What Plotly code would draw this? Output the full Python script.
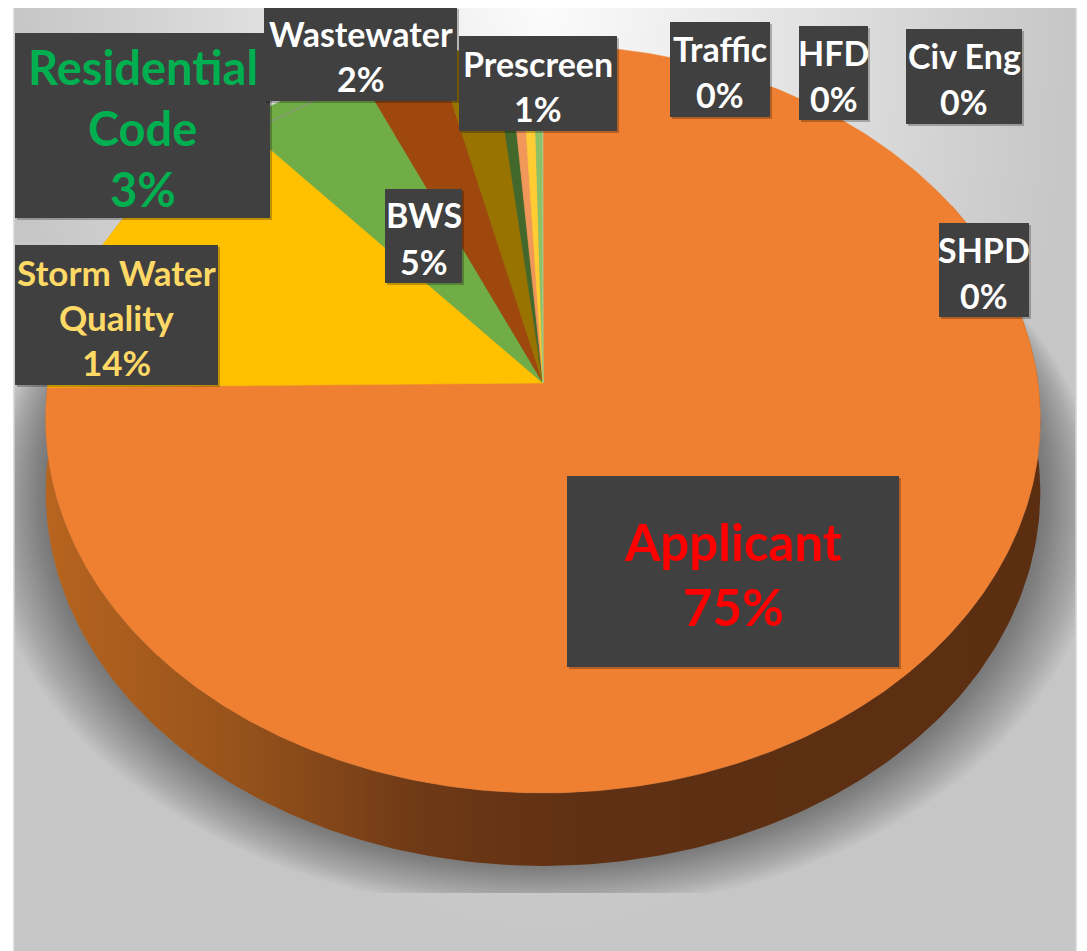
import numpy as np
import plotly.graph_objects as go

# ---------------- data ----------------
categories = ["Applicant", "Storm Water Quality", "BWS", "Residential Code", "Wastewater",
              "Prescreen", "Traffic", "HFD", "Civ Eng", "SHPD"]
values = [75.0, 13.8, 4.75, 2.9, 2.0, 0.55, 0.45, 0.45, 0.3, 0.05]
slice_colors = ["#EF7F31", "#FFC000", "#70AD47", "#9E480E", "#997300",
                "#43682B", "#F1975A", "#FFCD33", "#8CC168", "#A9D18E"]
label_lines = {"Residential Code": ["Residential", "Code"],
               "Storm Water Quality": ["Storm Water", "Quality"]}

# ---------------- styling / layout ----------------
W, H = 1087, 951
OFF = 8                          # page body margin
CX, CY = 543.0, 383.0          # projected pie centre
A, B, K = 495.0, 370.5, 0.0962  # perspective parameters
DEPTH = 73.0

label_style = {
    "Applicant":           dict(box=(567, 476, 899, 667), size=51, color="#FF0000", gap=65),
    "Storm Water Quality": dict(box=(15, 245, 218, 385), size=35, color="#FFD966", gap=45),
    "BWS":                 dict(box=(385, 189, 462, 283), size=34, color="#FFFFFF", gap=47),
    "Residential Code":    dict(box=(15, 33, 270, 218), size=47, color="#00B050", gap=61),
    "Wastewater":          dict(box=(264, 7, 457, 101), size=34, color="#FFFFFF", gap=45),
    "Prescreen":           dict(box=(459, 36, 617, 131), size=34, color="#FFFFFF", gap=45),
    "Traffic":             dict(box=(670, 22, 770, 117), size=34, color="#FFFFFF", gap=46),
    "HFD":                 dict(box=(799, 26, 868, 120), size=34, color="#FFFFFF", gap=46),
    "Civ Eng":             dict(box=(906, 29, 1022, 124), size=34, color="#FFFFFF", gap=46),
    "SHPD":                dict(box=(939, 223, 1029, 317), size=34, color="#FFFFFF", gap=46),
}


def proj(theta_deg):
    t = np.radians(np.asarray(theta_deg, dtype=float))
    u, v = np.sin(t), np.cos(t)
    w = 1 + K * v
    return CX + A * u / w, CY - B * v / w


total = sum(values)
bounds = np.concatenate([[0], np.cumsum(values)]) / total * 360.0
pcts = [v / total * 100 for v in values]

fig = go.Figure()

# chart-area background (radial gradient, brightest at top centre)
fig.add_trace(go.Scatter(
    x=[14, 1076, 1076, 14, 14], y=[-940, -940, 952, 952, -940],
    mode="lines", line=dict(width=0), fill="toself",
    fillgradient=dict(type="radial",
                      colorscale=[[0, "#FBFBFB"], [0.45, "#E4E4E4"], [0.8, "#D0D0D0"], [1, "#C6C6C6"]]),
    hoverinfo="skip"))

# soft shadow beneath the pie
tt = np.linspace(0, 360, 361)
px, py = proj(tt)
for i in range(18):
    e = 3 + 3.2 * i
    sx = CX + (px - CX) * (1 + e / 480.0)
    sy = py + DEPTH + e * (1 - np.cos(np.radians(tt))) / 2 * 0.8
    sy = np.minimum(sy, 893)
    fig.add_trace(go.Scatter(x=sx, y=sy, mode="lines", line=dict(width=0),
                             fill="toself", fillcolor="rgba(0,0,0,0.025)", hoverinfo="skip"))

# side wall of the pie (visible front part)
ts = np.linspace(60, 300, 241)
sx_top, sy_top = proj(ts)
side_x = np.concatenate([sx_top, sx_top[::-1]])
side_y = np.concatenate([sy_top, (sy_top + DEPTH)[::-1]])
fig.add_trace(go.Scatter(
    x=side_x, y=side_y, mode="lines", line=dict(width=0), fill="toself",
    fillgradient=dict(type="horizontal", start=40, stop=1045,
                      colorscale=[[0, "#B8651F"], [0.2, "#96521B"], [0.38, "#6E3916"],
                                  [0.55, "#5F3013"], [1, "#5B2E12"]]),
    hoverinfo="skip"))

# top face slices
for name, a0, a1, col in zip(categories, bounds[:-1], bounds[1:], slice_colors):
    n = max(3, int((a1 - a0) / 0.5) + 2)
    ang = np.linspace(a0, a1, n)
    x, y = proj(ang)
    fig.add_trace(go.Scatter(
        x=np.concatenate([[CX], x, [CX]]), y=np.concatenate([[CY], y, [CY]]),
        mode="lines", line=dict(width=0.6, color=col), fill="toself", fillcolor=col,
        name=name, hoverinfo="name"))

# leader line for Residential Code
ri = categories.index("Residential Code")
lx, ly = proj((bounds[ri] + bounds[ri + 1]) / 2)
fig.add_trace(go.Scatter(x=[255, float(lx)], y=[129, float(ly)], mode="lines",
                         line=dict(color="#8C8C8C", width=1), hoverinfo="skip"))

shapes = []
annotations = []
for name, pct in zip(categories, pcts):
    st = label_style[name]
    x0, y0, x1, y1 = st["box"]
    shapes.append(dict(type="rect", x0=x0 + 2, y0=y0 + 2, x1=x1 + 2, y1=y1 + 2,
                       fillcolor="rgba(0,0,0,0.25)", line=dict(width=0), layer="above"))
    shapes.append(dict(type="rect", x0=x0, y0=y0, x1=x1, y1=y1,
                       fillcolor="#404040", line=dict(width=0), layer="above"))
    lines = label_lines.get(name, [name]) + [f"{round(pct)}%"]
    cx_, cy_ = (x0 + x1) / 2, (y0 + y1) / 2
    n = len(lines)
    for j, txt in enumerate(lines):
        yy = cy_ + (j - (n - 1) / 2) * st["gap"] + 2
        annotations.append(dict(x=cx_, y=yy, text=txt, showarrow=False, xanchor="center",
                                yanchor="middle",
                                font=dict(family="Lato", size=st["size"], color=st["color"], weight=700)))

# frame / outside white
shapes += [
    dict(type="rect", x0=0, y0=0, x1=W, y1=6, fillcolor="white", line=dict(width=0), layer="above"),
    dict(type="rect", x0=0, y0=0, x1=14, y1=H, fillcolor="white", line=dict(width=0), layer="above"),
    dict(type="rect", x0=1076, y0=0, x1=W, y1=H, fillcolor="white", line=dict(width=0), layer="above"),
    dict(type="rect", x0=14, y0=6, x1=1076, y1=H + 5, fillcolor="rgba(0,0,0,0)",
         line=dict(width=1.5, color="#D4D4D4"), layer="above"),
]

fig.update_layout(
    width=W - OFF, height=H - OFF, margin=dict(l=0, r=0, t=0, b=0),
    paper_bgcolor="white", plot_bgcolor="white", showlegend=False,
    xaxis=dict(range=[OFF, W], visible=False, fixedrange=True),
    yaxis=dict(range=[H, OFF], visible=False, fixedrange=True),
    shapes=shapes, annotations=annotations,
)

fig.write_html("out.html")
